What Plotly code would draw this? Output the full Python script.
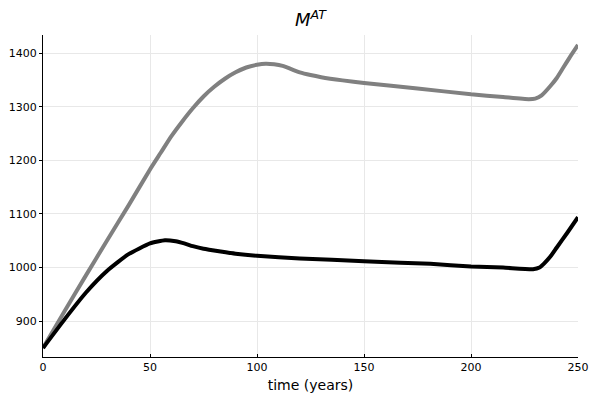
import plotly.graph_objects as go

t_gray = [0, 10, 20, 30, 40, 50, 55, 60, 65, 70, 75, 80, 85, 90, 95, 100, 104, 108, 112, 116, 120, 125, 130, 140, 150, 175, 200, 215, 227, 230, 233, 237, 240, 243, 246, 250]
v_gray = [850, 918, 985, 1051, 1116, 1183, 1214, 1245, 1272, 1297, 1319, 1337, 1352, 1364, 1373, 1378, 1380, 1379, 1376, 1370, 1364, 1359, 1355, 1349, 1344, 1334, 1323, 1318, 1314, 1315, 1321, 1338, 1353, 1372, 1391, 1415]

t_black = [0, 10, 20, 30, 40, 50, 57, 62, 66, 70, 75, 83, 90, 100, 120, 150, 167, 181, 200, 215, 229, 232, 234, 237, 240, 245, 250]
v_black = [850, 903, 953, 994, 1025, 1045, 1051, 1049, 1045, 1040, 1035, 1030, 1026, 1022, 1017, 1012, 1009, 1007, 1002, 1000, 997, 1000, 1007, 1020, 1037, 1065, 1094]

x_ticks = [0, 50, 100, 150, 200, 250]
y_ticks = [900, 1000, 1100, 1200, 1300, 1400]

fig = go.Figure()
fig.add_trace(go.Scatter(x=t_gray, y=v_gray, mode="lines",
                         line=dict(color="#808080", width=4, shape="spline", smoothing=0.5)))
fig.add_trace(go.Scatter(x=t_black, y=v_black, mode="lines",
                         line=dict(color="#000000", width=4, shape="spline", smoothing=0.5)))

font = "DejaVu Sans, sans-serif"
fig.update_layout(
    width=589, height=398,
    margin=dict(l=43, r=11, t=35, b=41),
    paper_bgcolor="white", plot_bgcolor="white",
    showlegend=False,
    font=dict(family=font, color="black", size=11),
    title=dict(text="<i>M</i><sup><i>AT</i></sup>", x=0.5, xanchor="center",
               xref="paper", y=0.95, yanchor="middle", font=dict(size=18, family=font)),
    xaxis=dict(range=[0, 250], tickvals=x_ticks, showgrid=True, gridcolor="#e8e8e8", gridwidth=1,
               showline=True, linecolor="black", linewidth=1, ticks="inside", ticklen=3,
               tickcolor="black", zeroline=False, mirror=False, automargin=False,
               title=dict(text="time (years)", font=dict(size=14), standoff=6)),
    yaxis=dict(range=[833.3, 1433.6], tickvals=y_ticks, showgrid=True, gridcolor="#e8e8e8", gridwidth=1,
               showline=True, linecolor="black", linewidth=1, ticks="outside", ticklen=3,
               tickcolor="black", zeroline=False, mirror=False, automargin=False),
)
fig.write_html("out.html")
